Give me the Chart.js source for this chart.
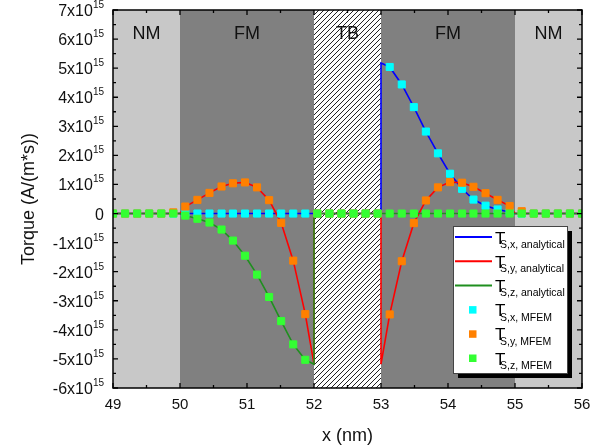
<!DOCTYPE html>
<html><head><meta charset="utf-8">
<script src="https://cdn.jsdelivr.net/npm/chart.js@4.4.0/dist/chart.umd.min.js"></script>
<style>html,body{margin:0;padding:0;background:#fff;}</style>
</head><body>
<canvas id="c" width="603" height="448"></canvas>
<script>
const FONT = "'Liberation Sans', Arial, sans-serif";

// x positions of MFEM samples (nm)
const X_MFEM = [49.00,49.18,49.36,49.54,49.72,49.90,50.08,50.26,50.44,50.62,
                50.79,50.97,51.15,51.33,51.51,51.69,51.87,52.05,52.23,52.41,
                52.59,52.77,52.95,53.13,53.31,53.49,53.67,53.85,54.03,54.21,
                54.38,54.56,54.74,54.92,55.10,55.28,55.46,55.64,55.82,56.00];
// torque values in units of 1e15 A/(m*s)
const TSX_MFEM = [0,0,0,0,0,0,0,0,0,0,
                  0,0,0,0,0,0,0,0,0,0,
                  0,0,0,5.04,4.44,3.66,2.82,2.07,1.37,0.85,
                  0.48,0.27,0.14,0.05,0,0,0,0,0,0];
const TSY_MFEM = [0,0,0,0,0,0.04,0.24,0.47,0.71,0.93,
                  1.04,1.07,0.90,0.46,-0.32,-1.62,-3.46,0,0,0,
                  0,0,0,-3.47,-1.64,-0.33,0.45,0.90,1.08,1.06,
                  0.92,0.70,0.47,0.26,0.08,0,0,0,0,0];
const TSZ_MFEM = [0,0,0,0,0,0,-0.07,-0.18,-0.31,-0.55,
                  -0.93,-1.45,-2.10,-2.87,-3.70,-4.50,-5.03,0,0,0,
                  0,0,0,0,0,0,0,0,0,0,
                  0,0,0,0,0,0,0,0,0,0];

// analytical curves
const X_AN_X   = [49,53,53,53.13,53.31,53.49,53.67,53.85,54.03,54.21,54.38,54.56,54.74,54.92,55,56];
const TSX_AN   = [0,0,5.18,5.04,4.44,3.66,2.82,2.07,1.37,0.85,0.48,0.27,0.14,0.05,0,0];
const X_AN_Y   = [49,50,50.08,50.26,50.44,50.62,50.79,50.97,51.15,51.33,51.51,51.69,51.87,52,52,
                  53,53,53.13,53.31,53.49,53.67,53.85,54.03,54.21,54.38,54.56,54.74,54.92,55,56];
const TSY_AN   = [0,0,0.24,0.47,0.71,0.93,1.04,1.07,0.90,0.46,-0.32,-1.62,-3.46,-5.18,0,
                  0,-5.18,-3.47,-1.64,-0.33,0.45,0.90,1.08,1.06,0.92,0.70,0.47,0.26,0,0];
const X_AN_Z   = [49,50,50.08,50.26,50.44,50.62,50.79,50.97,51.15,51.33,51.51,51.69,51.87,52,52,56];
const TSZ_AN   = [0,0,-0.07,-0.18,-0.31,-0.55,-0.93,-1.45,-2.10,-2.87,-3.70,-4.50,-5.03,-5.18,0,0];

const X_TICKS = [49,50,51,52,53,54,55,56];
const Y_TICKS = [-6,-5,-4,-3,-2,-1,0,1,2,3,4,5,6,7];
const Y_EXP = '15';

const REGION_FROM  = [49,50,52,53,55];
const REGION_TO    = [50,52,53,55,56];
const REGION_NAME  = ['NM','FM','TB','FM','NM'];
const REGION_KIND  = ['nm','fm','tb','fm','nm'];
const REGION_COLOR = {nm:'#c8c8c8', fm:'#808080'};

const zip = (xs, ys) => xs.map((x,i)=>({x, y: ys[i]}));

const bgPlugin = {
  id: 'bg',
  beforeDatasetsDraw(chart) {
    const {ctx, chartArea: a, scales: {x, y}} = chart;
    ctx.save();
    ctx.beginPath(); ctx.rect(a.left, a.top, a.right - a.left, a.bottom - a.top); ctx.clip();
    REGION_FROM.forEach((f, i) => {
      const x0 = x.getPixelForValue(f), x1 = x.getPixelForValue(REGION_TO[i]);
      const kind = REGION_KIND[i];
      if (kind === 'tb') {
        ctx.fillStyle = '#fff';
        ctx.fillRect(x0, a.top, x1 - x0, a.bottom - a.top);
        ctx.save();
        ctx.beginPath(); ctx.rect(x0, a.top, x1 - x0, a.bottom - a.top); ctx.clip();
        ctx.strokeStyle = '#222'; ctx.lineWidth = 1;
        const h = a.bottom - a.top;
        ctx.beginPath();
        for (let s = x0 - h; s < x1 + 5; s += 5) {
          ctx.moveTo(s, a.bottom); ctx.lineTo(s + h, a.top);
        }
        ctx.stroke();
        ctx.restore();
      } else {
        ctx.fillStyle = REGION_COLOR[kind];
        ctx.fillRect(x0, a.top, x1 - x0, a.bottom - a.top);
      }
      ctx.fillStyle = '#111';
      ctx.font = '18px ' + FONT;
      ctx.textAlign = 'center'; ctx.textBaseline = 'middle';
      ctx.fillText(REGION_NAME[i], (x0 + x1) / 2, a.top + 24);
    });
    ctx.restore();
  },
  afterDraw(chart) {
    const {ctx, chartArea: a, scales: {x, y}} = chart;
    ctx.save();
    // frame
    ctx.strokeStyle = '#000'; ctx.lineWidth = 1.5;
    ctx.strokeRect(a.left, a.top, a.right - a.left, a.bottom - a.top);
    // ticks inward on all sides
    ctx.lineWidth = 1.3;
    ctx.beginPath();
    X_TICKS.forEach((v, i) => {
      const px = x.getPixelForValue(v);
      ctx.moveTo(px, a.bottom); ctx.lineTo(px, a.bottom - 5);
      ctx.moveTo(px, a.top); ctx.lineTo(px, a.top + 5);
      if (i < X_TICKS.length - 1) {
        const pm = x.getPixelForValue((v + X_TICKS[i+1]) / 2);
        ctx.moveTo(pm, a.bottom); ctx.lineTo(pm, a.bottom - 3);
        ctx.moveTo(pm, a.top); ctx.lineTo(pm, a.top + 3);
      }
    });
    Y_TICKS.forEach((v, i) => {
      const py = y.getPixelForValue(v);
      ctx.moveTo(a.left, py); ctx.lineTo(a.left + 5, py);
      ctx.moveTo(a.right, py); ctx.lineTo(a.right - 5, py);
      if (i < Y_TICKS.length - 1) {
        const pm = y.getPixelForValue((v + Y_TICKS[i+1]) / 2);
        ctx.moveTo(a.left, pm); ctx.lineTo(a.left + 3, pm);
        ctx.moveTo(a.right, pm); ctx.lineTo(a.right - 3, pm);
      }
    });
    ctx.stroke();

    // y tick labels with superscript exponent
    ctx.fillStyle = '#111';
    ctx.textBaseline = 'alphabetic';
    Y_TICKS.forEach(v => {
      const py = y.getPixelForValue(v);
      const right = a.left - 9;
      if (v === 0) {
        ctx.font = '16px ' + FONT; ctx.textAlign = 'right';
        ctx.fillText('0', right, py + 6);
        return;
      }
      ctx.font = '10px ' + FONT; ctx.textAlign = 'right';
      const supW = ctx.measureText(Y_EXP).width;
      ctx.fillText(Y_EXP, right, py - 2);
      ctx.font = '16px ' + FONT;
      ctx.fillText(v + 'x10', right - supW, py + 6);
    });

    // legend
    const L = 453, T = 226, W = 114, H = 147;
    ctx.fillStyle = '#000';
    ctx.fillRect(L + 5, T + 5, W, H);
    ctx.fillStyle = '#fff';
    ctx.fillRect(L, T, W, H);
    ctx.strokeStyle = '#444'; ctx.lineWidth = 1;
    ctx.strokeRect(L + 0.5, T + 0.5, W, H);
    chart.data.datasets.forEach((ds, i) => {
      const cy = T + 11 + i * 24.2;
      if (ds.showLine) {
        ctx.strokeStyle = ds.borderColor; ctx.lineWidth = 2;
        ctx.beginPath(); ctx.moveTo(L + 2, cy); ctx.lineTo(L + 39, cy); ctx.stroke();
      } else {
        ctx.fillStyle = ds.backgroundColor;
        ctx.fillRect(L + 16, cy - 3.5, 7.5, 7.5);
      }
      const [main, sub] = [ds.label.slice(0, 1), ds.label.slice(2)];
      ctx.fillStyle = '#000';
      ctx.textAlign = 'left'; ctx.textBaseline = 'alphabetic';
      ctx.font = '17px ' + FONT;
      ctx.fillText(main, L + 42, cy + 6.5);
      ctx.font = '10.5px ' + FONT;
      ctx.fillText(sub, L + 47, cy + 11);
    });
    ctx.restore();
  }
};

new Chart(document.getElementById('c'), {
  type: 'scatter',
  data: {
    datasets: [
      {label: 'T S,x, analytical', data: zip(X_AN_X, TSX_AN), showLine: true, borderColor: '#0000ff',
       backgroundColor: '#0000ff', borderWidth: 1.6, pointRadius: 0, tension: 0, order: 5},
      {label: 'T S,y, analytical', data: zip(X_AN_Y, TSY_AN), showLine: true, borderColor: '#ff0000',
       backgroundColor: '#ff0000', borderWidth: 1.6, pointRadius: 0, tension: 0, order: 4},
      {label: 'T S,z, analytical', data: zip(X_AN_Z, TSZ_AN), showLine: true, borderColor: '#1f8f1f',
       backgroundColor: '#1f8f1f', borderWidth: 1.6, pointRadius: 0, tension: 0, order: 3},
      {label: 'T S,x, MFEM', data: zip(X_MFEM, TSX_MFEM), showLine: false, pointStyle: 'rect',
       pointRadius: 5, borderWidth: 1, backgroundColor: '#00ffff', borderColor: '#00ffff', order: 2},
      {label: 'T S,y, MFEM', data: zip(X_MFEM, TSY_MFEM), showLine: false, pointStyle: 'rect',
       pointRadius: 5, borderWidth: 1, backgroundColor: '#ff8000', borderColor: '#ff8000', order: 1},
      {label: 'T S,z, MFEM', data: zip(X_MFEM, TSZ_MFEM), showLine: false, pointStyle: 'rect',
       pointRadius: 5, borderWidth: 1, backgroundColor: '#33ff33', borderColor: '#33ff33', order: 0}
    ]
  },
  options: {
    responsive: false, animation: false, devicePixelRatio: 1,
    layout: {padding: {top: 10, right: 21, left: 0, bottom: 0}},
    plugins: {legend: {display: false}, tooltip: {enabled: false}},
    elements: {point: {hoverRadius: 5}},
    scales: {
      x: {
        type: 'linear', min: 49, max: 56,
        afterBuildTicks: s => { s.ticks = X_TICKS.map(v => ({value: v})); },
        afterFit: s => { s.height = 60; },
        ticks: {color: '#111', font: {family: FONT, size: 15}, padding: 8},
        grid: {display: false, drawTicks: false}, border: {display: false},
        title: {display: true, text: 'x (nm)', color: '#111', font: {family: FONT, size: 18},
                padding: {top: 0, bottom: 1}}
      },
      y: {
        type: 'linear', min: -6, max: 7,
        afterBuildTicks: s => { s.ticks = Y_TICKS.map(v => ({value: v})); },
        afterFit: s => { s.width = 113; },
        ticks: {display: false},
        grid: {display: false, drawTicks: false}, border: {display: false},
        title: {display: true, text: 'Torque (A/(m*s))', color: '#111', font: {family: FONT, size: 18},
                padding: {top: 18, bottom: 0}}
      }
    }
  },
  plugins: [bgPlugin]
});
</script>
</body></html>
